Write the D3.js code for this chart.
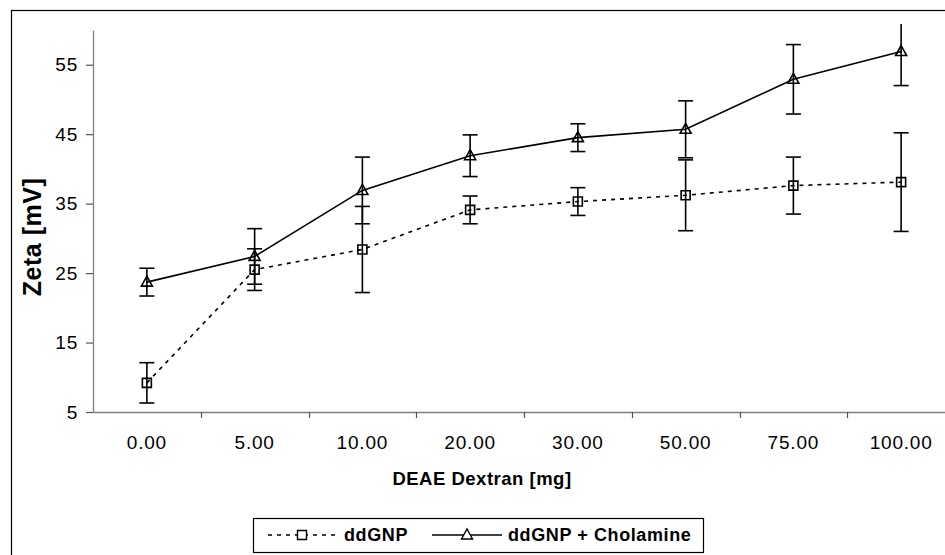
<!DOCTYPE html>
<html>
<head>
<meta charset="utf-8">
<script src="https://cdn.jsdelivr.net/npm/d3@7"></script>
<style>
    body { margin: 0; background: #fff; }
    svg { display: block; font-family: "Liberation Sans", Arial, sans-serif; }
</style>
</head>
<body>
<div id="chart"></div>
<script>
// data
var categories = ["0.00", "5.00", "10.00", "20.00", "30.00", "50.00", "75.00", "100.00"];
var ddgnp = [9.2, 25.5, 28.4, 34.1, 35.3, 36.2, 37.6, 38.1];
var ddgnpErr = [2.9, 3.0, 6.2, 2.0, 2.0, 5.1, 4.1, 7.1];
var cholamine = [23.7, 27.4, 36.9, 41.9, 44.5, 45.7, 52.9, 56.9];
var cholamineErr = [2.0, 4.0, 4.8, 3.0, 2.0, 4.1, 5.0, 4.9];
var yTicks = [5, 15, 25, 35, 45, 55];

document.addEventListener('DOMContentLoaded', () => {
    const W = 945, H = 555;
    var svg = d3.select("#chart").append("svg")
        .attr("width", W)
        .attr("height", H);

    // outer chart frame (cut off at right and bottom)
    svg.append("rect")
        .attr("x", 11.5).attr("y", 10.5)
        .attr("width", 960).attr("height", 600)
        .attr("fill", "#fff")
        .attr("stroke", "#000")
        .attr("stroke-width", 1.2);

    var x = d3.scaleBand()
        .domain(categories)
        .range([93, 955])
        .paddingInner(0).paddingOuter(0);

    var y = d3.scaleLinear()
        .domain([5, 60])
        .range([412, 30]);

    // y axis
    var yAxis = svg.append("g")
        .attr("transform", "translate(93,0)")
        .call(d3.axisLeft(y).tickValues(yTicks).tickSize(7).tickSizeOuter(0).tickPadding(8));
    yAxis.select(".domain").attr("stroke", "#808080").attr("stroke-width", 1.3);
    yAxis.selectAll(".tick line").attr("stroke", "#555").attr("stroke-width", 1.2);
    yAxis.selectAll("text")
        .attr("font-size", "19px")
        .attr("letter-spacing", "0.8px")
        .attr("fill", "#000")
        .attr("font-family", "'Liberation Sans', Arial, sans-serif");

    // x axis: labels centred in categories, ticks on category boundaries
    var xAxis = svg.append("g")
        .attr("transform", "translate(0,412)")
        .call(d3.axisBottom(x).tickSize(0).tickSizeOuter(0).tickPadding(24));
    xAxis.select(".domain").attr("stroke", "#808080").attr("stroke-width", 1.3);
    xAxis.selectAll("text")
        .attr("font-size", "19px")
        .attr("letter-spacing", "0.8px")
        .attr("fill", "#000")
        .attr("font-family", "'Liberation Sans', Arial, sans-serif");

    xAxis.selectAll(".bound")
        .data(categories.slice(1))
        .enter().append("line")
        .attr("class", "bound")
        .attr("x1", function(d) { return Math.round(x(d)) + 0.5; })
        .attr("x2", function(d) { return Math.round(x(d)) + 0.5; })
        .attr("y1", 0).attr("y2", 6)
        .attr("stroke", "#555").attr("stroke-width", 1.2);

    // axis titles
    svg.append("text")
        .attr("x", 482).attr("y", 485)
        .attr("text-anchor", "middle")
        .attr("font-size", "18.5px")
        .attr("font-weight", "bold")
        .attr("letter-spacing", "0.5px")
        .text("DEAE Dextran [mg]");

    svg.append("text")
        .attr("transform", "translate(41,237) rotate(-90)")
        .attr("text-anchor", "middle")
        .attr("font-size", "25px")
        .attr("font-weight", "bold")
        .attr("letter-spacing", "0.5px")
        .text("Zeta [mV]");

    // clip for error bars sticking out of the plot area
    svg.append("clipPath").attr("id", "plotClip")
        .append("rect").attr("x", 93).attr("y", 24).attr("width", 860).attr("height", 400);

    var cx = function(i) { return x(categories[i]) + x.bandwidth() / 2; };

    var series = [
        { vals: ddgnp, errs: ddgnpErr, dash: "4,5", marker: "square" },
        { vals: cholamine, errs: cholamineErr, dash: null, marker: "triangle" }
    ];

    var plot = svg.append("g");
    var bars = plot.append("g").attr("clip-path", "url(#plotClip)");
    const capHalf = 7.5;

    series.forEach(function(s) {
        var pts = s.vals.map(function(v, i) { return { i: i, v: v, e: s.errs[i] }; });

        var line = d3.line()
            .x(function(d) { return cx(d.i); })
            .y(function(d) { return y(d.v); });

        plot.append("path")
            .datum(pts)
            .attr("d", line)
            .attr("fill", "none")
            .attr("stroke", "#000")
            .attr("stroke-width", 1.6)
            .attr("stroke-dasharray", s.dash);

        var eb = bars.selectAll(null).data(pts).enter().append("g")
            .attr("stroke", "#000").attr("stroke-width", 1.6);
        eb.append("line")
            .attr("x1", function(d) { return cx(d.i); })
            .attr("x2", function(d) { return cx(d.i); })
            .attr("y1", function(d) { return y(d.v + d.e); })
            .attr("y2", function(d) { return y(d.v - d.e); });
        eb.append("line")
            .attr("x1", function(d) { return cx(d.i) - capHalf; })
            .attr("x2", function(d) { return cx(d.i) + capHalf; })
            .attr("y1", function(d) { return y(d.v + d.e); })
            .attr("y2", function(d) { return y(d.v + d.e); });
        eb.append("line")
            .attr("x1", function(d) { return cx(d.i) - capHalf; })
            .attr("x2", function(d) { return cx(d.i) + capHalf; })
            .attr("y1", function(d) { return y(d.v - d.e); })
            .attr("y2", function(d) { return y(d.v - d.e); });

        plot.selectAll(null).data(pts).enter().append("path")
            .attr("transform", function(d) { return "translate(" + cx(d.i) + "," + y(d.v) + ")"; })
            .attr("d", markerPath(s.marker))
            .attr("fill", "none")
            .attr("stroke", "#000")
            .attr("stroke-width", 1.6);
    });

    function markerPath(kind) {
        if (kind === "square") return "M-4.5,-4.5H4.5V4.5H-4.5Z";
        return "M0,-6L5.5,4L-5.5,4Z";
    }

    // legend
    var leg = svg.append("g");
    leg.append("rect")
        .attr("x", 253.5).attr("y", 518.5)
        .attr("width", 450).attr("height", 34)
        .attr("fill", "#fff")
        .attr("stroke", "#000")
        .attr("stroke-width", 1.2);

    var legItems = [
        { label: "ddGNP", x0: 268, x1: 336, tx: 344, s: series[0] },
        { label: "ddGNP + Cholamine", x0: 432, x1: 502, tx: 508, s: series[1] }
    ];
    legItems.forEach(function(it) {
        var my = 535;
        var mx = (it.x0 + it.x1) / 2;
        leg.append("line")
            .attr("x1", it.x0).attr("x2", it.x1)
            .attr("y1", my).attr("y2", my)
            .attr("stroke", "#000").attr("stroke-width", 1.4)
            .attr("stroke-dasharray", it.s.dash);
        leg.append("path")
            .attr("transform", "translate(" + mx + "," + my + ")")
            .attr("d", markerPath(it.s.marker))
            .attr("fill", "#fff")
            .attr("stroke", "#000")
            .attr("stroke-width", 1.4);
        leg.append("text")
            .attr("x", it.tx).attr("y", 541)
            .attr("font-size", "18px")
            .attr("font-weight", "bold")
            .attr("letter-spacing", "0.6px")
            .text(it.label);
    });
});
</script>
</body>
</html>
